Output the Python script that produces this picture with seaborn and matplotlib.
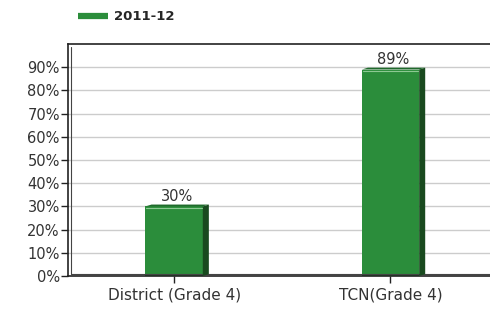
import matplotlib
matplotlib.use("Agg")
import matplotlib.pyplot as plt
import seaborn as sns
import pandas as pd
from matplotlib.lines import Line2D
from matplotlib.patches import Polygon
from matplotlib.ticker import PercentFormatter

categories = ["District (Grade 4)", "TCN(Grade 4)"]
values = [30, 89]
series_name = "2011-12"
yticks = [0, 10, 20, 30, 40, 50, 60, 70, 80, 90]

sns.set_style("white")
plt.rcParams['font.family'] = ['DejaVu Sans']

df = pd.DataFrame({"cat": categories, "val": values})

fig = plt.figure(figsize=(4.9, 3.11), dpi=100)
ax = fig.add_axes([0.139, 0.1125, 0.861, 0.746])

green = "#2b8d3b"
sns.barplot(data=df, x="cat", y="val", color=green, width=0.265, ax=ax,
            saturation=1, edgecolor="none")

# 3D-ish side faces derived from bar geometry
dx = 0.028
for p in list(ax.patches):
    x0 = p.get_x(); w = p.get_width(); h = p.get_height()
    side = Polygon([(x0 + w, 0), (x0 + w + dx, 0.8), (x0 + w + dx, h + 0.8), (x0 + w, h)],
                   closed=True, facecolor="#194a1f", edgecolor="none", zorder=3)
    ax.add_patch(side)
    top = Polygon([(x0, h), (x0 + dx, h + 0.8), (x0 + w + dx, h + 0.8), (x0 + w, h)],
                  closed=True, facecolor="#1f6a2c", edgecolor="none", zorder=3)
    ax.add_patch(top)
    ax.plot([x0 + 0.004, x0 + w - 0.004], [h - 0.8, h - 0.8], color="#8cc892", lw=0.8, zorder=4)

for x, v in enumerate(values):
    ax.text(x + dx / 2, v + 1.0, f"{v}%", ha="center", va="bottom",
            fontsize=10.5, color="#333333")

ax.set_xlim(-0.49, 1.46)
ax.set_ylim(0, 100)
ax.set_yticks(yticks)
ax.yaxis.set_major_formatter(PercentFormatter(decimals=0))
ax.grid(axis="y", color="#cccccc", lw=1)
ax.set_axisbelow(True)
ax.set_xlabel("")
ax.set_ylabel("")
for s in ["left", "top", "bottom"]:
    ax.spines[s].set_color("#222222")
    ax.spines[s].set_linewidth(1.2)
ax.spines["right"].set_visible(False)
ax.tick_params(axis="both", which="both", direction="out", length=5, width=1,
               color="#222222", labelcolor="#333333", pad=1,
               left=True, bottom=True)
ax.tick_params(axis="y", labelsize=10.5)
ax.tick_params(axis="x", labelsize=11, pad=3)

# 3D wall / floor inner lines
ax.plot([0.008, 0.008], [0.01, 0.985], transform=ax.transAxes, color="#444444", lw=0.8, zorder=2)
ax.plot([0.008, 1.0], [0.01, 0.01], transform=ax.transAxes, color="#444444", lw=0.8, zorder=2)

handle = Line2D([0], [0], color=green, lw=4.5, solid_capstyle="butt")
leg = fig.legend([handle], [series_name], loc="upper left", bbox_to_anchor=(0.135, 1.005),
                 frameon=False, prop={"weight": "bold", "size": 9.5}, handlelength=2.3,
                 handletextpad=0.45)

fig.savefig("out.png", dpi=100)
